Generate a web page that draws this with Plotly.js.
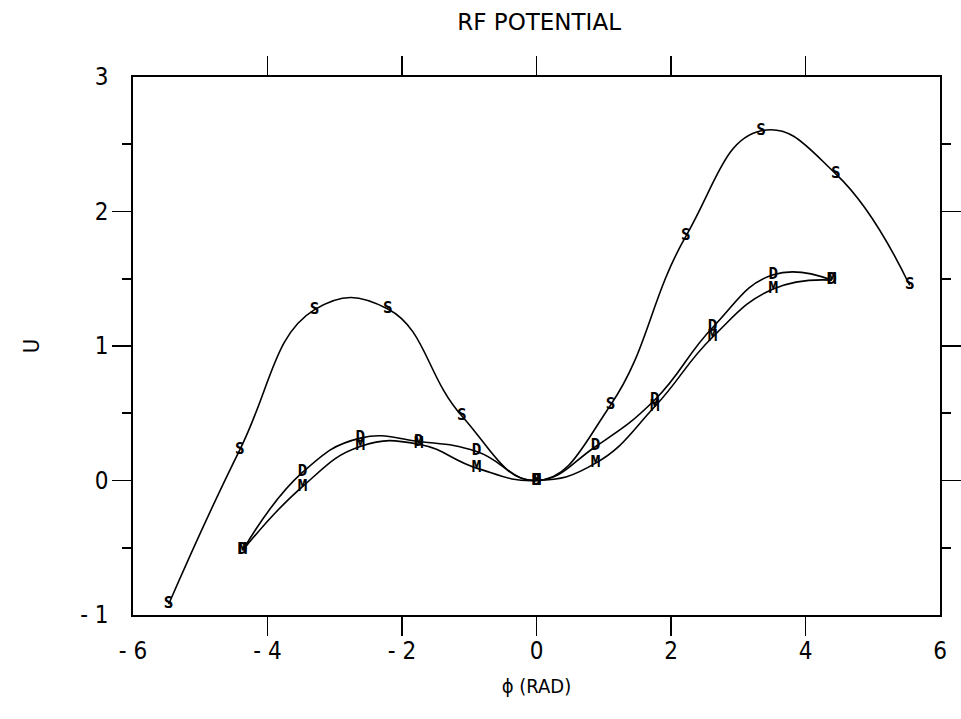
<!DOCTYPE html>
<html>
<head>
<meta charset="utf-8">
<script src="https://cdn.plot.ly/plotly-3.0.1.min.js"></script>
<style>body{margin:0;background:#fff}#chart{width:961px;height:719px}</style>
</head>
<body>
<div id="chart"></div>
<script>
// Series S
var sX = [-5.47, -4.41, -3.30, -2.21, -1.11, 0.0, 1.10, 2.22, 3.34, 4.45, 5.55];
var sY = [-0.92, 0.23, 1.27, 1.275, 0.48, 0.0, 0.56, 1.815, 2.60, 2.28, 1.45];
// Series D
var dX = [-4.37, -3.48, -2.62, -1.75, -0.89, 0.0, 0.88, 1.76, 2.62, 3.52, 4.39];
var dY = [-0.52, 0.06, 0.315, 0.29, 0.216, 0.0, 0.253, 0.60, 1.138, 1.53, 1.49];
// Series M
var mX = [-4.37, -3.48, -2.62, -1.75, -0.89, 0.0, 0.88, 1.76, 2.62, 3.52, 4.39];
var mY = [-0.52, -0.045, 0.253, 0.27, 0.092, 0.0, 0.129, 0.55, 1.067, 1.424, 1.49];

var xTickVals = [-6, -4, -2, 0, 2, 4, 6];
var xTickText = ['- 6', '- 4', '- 2', '0', '2', '4', '6'];
var xInnerTicks = [-4, -2, 0, 2, 4];
var yTickVals = [-1, 0, 1, 2, 3];
var yTickText = ['- 1', '0', '1', '2', '3'];
var yMajorTicks = [0, 1, 2];
var yHalfTicks = [-0.5, 0.5, 1.5, 2.5];

var labelFont = 'DejaVu Sans Condensed, Liberation Sans Narrow, sans-serif';
var markFont = {family: 'DejaVu Sans Mono, Liberation Mono, monospace', size: 16, color: '#000', weight: 'bold'};

function series(x, y, letter) {
  return {
    x: x, y: y, type: 'scatter', mode: 'lines+text',
    text: x.map(function(){return letter;}),
    textposition: 'middle center',
    textfont: markFont,
    line: {shape: 'spline', smoothing: 1.3, color: '#000', width: 1.6},
    hoverinfo: 'skip', showlegend: false
  };
}

function ghost(xa, ya) {
  return {x: [0], y: [0], xaxis: xa, yaxis: ya, type: 'scatter', mode: 'markers',
          marker: {opacity: 0, size: 1}, hoverinfo: 'skip', showlegend: false};
}

var traces = [
  series(sX, sY, 'S'),
  series(mX, mY, 'M'),
  series(dX, dY, 'D'),
  ghost('x2', 'y'),
  ghost('x', 'y2'),
  ghost('x', 'y3')
];

var tickAxisBase = {showgrid: false, zeroline: false, showline: false, mirror: 'ticks',
                    tickmode: 'array', ticks: 'outside', tickwidth: 1.6, tickcolor: '#000',
                    showticklabels: false, fixedrange: true};

var layout = {
  width: 961, height: 719,
  paper_bgcolor: '#fff', plot_bgcolor: '#fff',
  margin: {l: 133, r: 21, t: 77, b: 104},
  showlegend: false,
  title: {text: 'RF POTENTIAL', x: 0.561, xanchor: 'center', y: 0.969, yanchor: 'middle',
          font: {family: 'DejaVu Sans, sans-serif', size: 23, color: '#000'}},
  xaxis: {
    range: [-6, 6], showgrid: false, zeroline: false,
    showline: true, linecolor: '#000', linewidth: 1.6, mirror: true,
    tickmode: 'array', tickvals: xTickVals, ticktext: xTickText,
    ticks: 'outside', ticklen: 14, tickcolor: 'rgba(0,0,0,0)',
    tickfont: {family: labelFont, size: 24, color: '#000'},
    title: {text: 'ϕ (RAD)', standoff: 14, font: {family: labelFont, size: 20, color: '#000'}}
  },
  xaxis2: Object.assign({}, tickAxisBase, {
    overlaying: 'x', anchor: 'y', side: 'bottom', range: [-6, 6],
    tickvals: xInnerTicks, ticklen: 20
  }),
  yaxis: {
    range: [-1, 3], showgrid: false, zeroline: false,
    showline: true, linecolor: '#000', linewidth: 1.6, mirror: true,
    tickmode: 'array', tickvals: yTickVals, ticktext: yTickText,
    ticks: 'outside', ticklen: 18, tickcolor: 'rgba(0,0,0,0)',
    tickfont: {family: labelFont, size: 24, color: '#000'},
    title: {text: 'U', standoff: 34, font: {family: labelFont, size: 22, color: '#000'}}
  },
  yaxis2: Object.assign({}, tickAxisBase, {
    overlaying: 'y', anchor: 'x', side: 'left', range: [-1, 3],
    tickvals: yHalfTicks, ticklen: 10
  }),
  yaxis3: Object.assign({}, tickAxisBase, {
    overlaying: 'y', anchor: 'x', side: 'left', range: [-1, 3],
    tickvals: yMajorTicks, ticklen: 20
  })
};

Plotly.newPlot('chart', traces, layout, {displayModeBar: false, staticPlot: true});
</script>
</body>
</html>
